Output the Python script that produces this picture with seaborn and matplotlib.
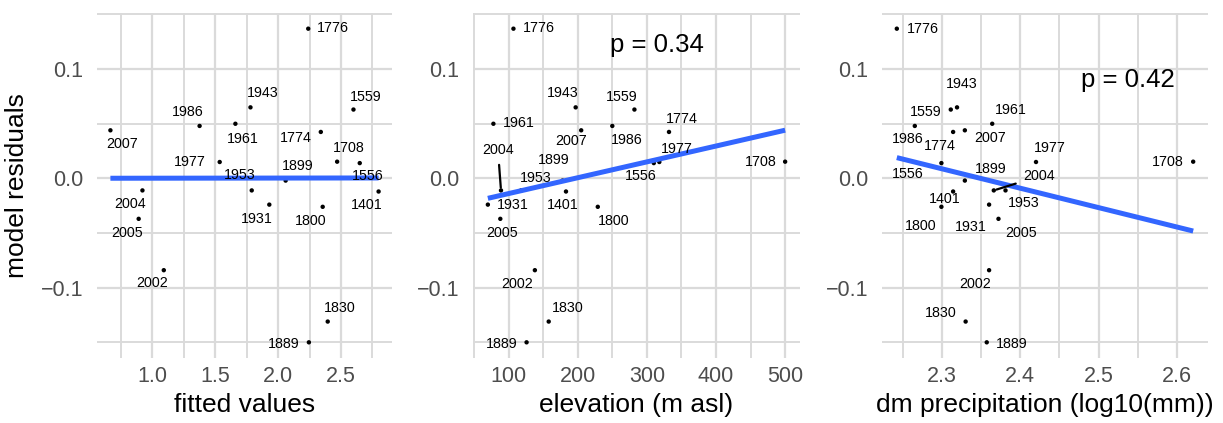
import numpy as np
import pandas as pd
import matplotlib
matplotlib.use('Agg')
import matplotlib.pyplot as plt
from matplotlib.ticker import MultipleLocator, FuncFormatter
import seaborn as sns

# Data
years = ['1776', '1943', '1559', '1986', '1961', '2007', '1774', '1708', '1977', '1556',
         '1899', '1953', '2004', '1401', '1931', '1800', '2005', '2002', '1830', '1889']
residuals = [0.137, 0.065, 0.063, 0.048, 0.050, 0.044, 0.0425, 0.0153, 0.015, 0.014,
             -0.002, -0.011, -0.011, -0.012, -0.024, -0.026, -0.037, -0.084, -0.131, -0.150]
fitted = [2.24, 1.78, 2.60, 1.375, 1.66, 0.665, 2.34, 2.47, 1.535, 2.65,
          2.06, 1.79, 0.92, 2.80, 1.93, 2.355, 0.89, 1.09, 2.395, 2.245]
elevation = [107, 197, 282, 250, 78, 205, 332, 500, 318, 310,
             178, 118, 89, 183, 70, 229, 88, 138, 158, 126]
precip = [2.242, 2.319, 2.311, 2.265, 2.364, 2.329, 2.314, 2.621, 2.420, 2.299,
          2.329, 2.381, 2.366, 2.314, 2.360, 2.299, 2.372, 2.360, 2.330, 2.357]
p_values = {'elevation': 0.34, 'precip': 0.42}

df = pd.DataFrame({'year': years, 'resid': residuals, 'fitted': fitted,
                   'elevation': elevation, 'precip': precip})

# label offsets (pixels, from point to label centre)
offsets = {
    'fitted': {'1776': (25, 1), '1943': (12, 14), '1559': (12, 13), '1986': (-12, 14),
               '1961': (7, -15), '2007': (12, -14), '1774': (-25, -6), '1708': (12, 14),
               '1977': (-30, 0), '1556': (8, -13), '1953': (-12, 15), '1899': (12, 15),
               '2004': (-12, -14), '1401': (-12, -13), '1931': (-12, -14), '1800': (-12, -14),
               '2005': (-12, -14), '2002': (-12, -13), '1830': (12, 14), '1889': (-25, -2)},
    'elevation': {'1776': (25, 1), '1943': (-13, 14), '1559': (-13, 13), '1961': (25, 1),
                  '2007': (-10, -11), '1986': (14, -14), '1774': (13, 13), '1708': (-24, 0),
                  '1977': (17, 13), '1556': (-13, -13), '1899': (-9, 21), '1953': (15, 12),
                  '2004': (-3, 40), '1931': (25, 0), '1401': (-3, -13), '1800': (16, -14),
                  '2005': (2, -14), '2002': (-18, -14), '1830': (19, 14), '1889': (-25, -2)},
    'precip': {'1776': (26, 0), '1943': (5, 23), '1559': (-25, -2), '1961': (19, 14),
               '1986': (-7, -13), '1774': (-13, -14), '2007': (25, -8), '1977': (14, 14),
               '1708': (-25, 0), '1556': (-34, -11), '1899': (26, 12), '2004': (45, 14),
               '1953': (18, -13), '1401': (-8, -7), '1800': (-21, -19), '1931': (-18, -22),
               '2005': (23, -14), '2002': (-14, -14), '1830': (-25, 9), '1889': (25, -2)},
}
segments = {'elevation': ['2004'], 'precip': ['2004']}

sns.set_theme(style='whitegrid')
plt.rcParams['font.family'] = ['Liberation Sans', 'DejaVu Sans']

fig = plt.figure(figsize=(12.23, 4.23), dpi=100)
W, H = 1223, 423
panels = [('fitted', 'fitted values', 97, 295, 0.5, 0.25),
          ('elevation', 'elevation (m asl)', 473, 327, 100, 50),
          ('precip', 'dm precipitation (log10(mm))', 882, 326, 0.1, 0.05)]

def fmt(v, pos):
    s = '%.1f' % v
    if s == '-0.0':
        s = '0.0'
    return s.replace('-', '\u2212')

def fmt0(v, pos):
    return '%d' % round(v)

for i, (col, xlabel, left, width, major, minor) in enumerate(panels):
    ax = fig.add_axes([left / W, (H - 358) / H, width / W, 345 / H])
    ax.set_facecolor('white')
    sns.scatterplot(data=df, x=col, y='resid', ax=ax, color='black', s=10,
                    edgecolor='none', zorder=3)
    sns.regplot(data=df, x=col, y='resid', ax=ax, scatter=False, ci=None,
                line_kws=dict(color='#3366FF', lw=3.6, solid_capstyle='butt', zorder=4))
    for _, r in df.iterrows():
        dx, dy = offsets[col][r['year']]
        kw = {}
        if r['year'] in segments.get(col, []):
            kw['arrowprops'] = dict(arrowstyle='-', color='black', lw=1.6,
                                    shrinkA=3, shrinkB=2)
        ax.annotate(r['year'], (r[col], r['resid']), xytext=(dx, dy),
                    textcoords='offset pixels', ha='center', va='center',
                    fontsize=10.3, color='black', zorder=5, **kw)
    ax.xaxis.set_major_locator(MultipleLocator(major))
    ax.xaxis.set_minor_locator(MultipleLocator(minor))
    ax.yaxis.set_major_locator(MultipleLocator(0.1))
    ax.yaxis.set_minor_locator(MultipleLocator(0.05))
    ax.xaxis.set_major_formatter(FuncFormatter(fmt0 if col == 'elevation' else fmt))
    ax.yaxis.set_major_formatter(FuncFormatter(fmt))
    ax.grid(True, which='major', color='#dadada', lw=1.6)
    ax.grid(True, which='minor', color='#dadada', lw=1.4)
    ax.set_axisbelow(True)
    for s in ax.spines.values():
        s.set_visible(False)
    ax.tick_params(which='both', length=0, labelsize=15.5, labelcolor='#4d4d4d')
    ax.tick_params(axis='x', pad=6)
    ax.tick_params(axis='y', pad=10)
    ax.set_xlabel(xlabel, fontsize=19, color='black', labelpad=4)
    if i == 0:
        ax.set_ylabel('model residuals', fontsize=19, color='black', labelpad=8)
    else:
        ax.set_ylabel('')

fig.axes[1].text(0.563, 0.907, 'p = %.2f' % p_values['elevation'], transform=fig.axes[1].transAxes,
                 ha='center', va='center', fontsize=18.5, color='black')
fig.axes[2].text(0.755, 0.806, 'p = %.2f' % p_values['precip'], transform=fig.axes[2].transAxes,
                 ha='center', va='center', fontsize=18.5, color='black')

fig.savefig('out.png', dpi=100)
